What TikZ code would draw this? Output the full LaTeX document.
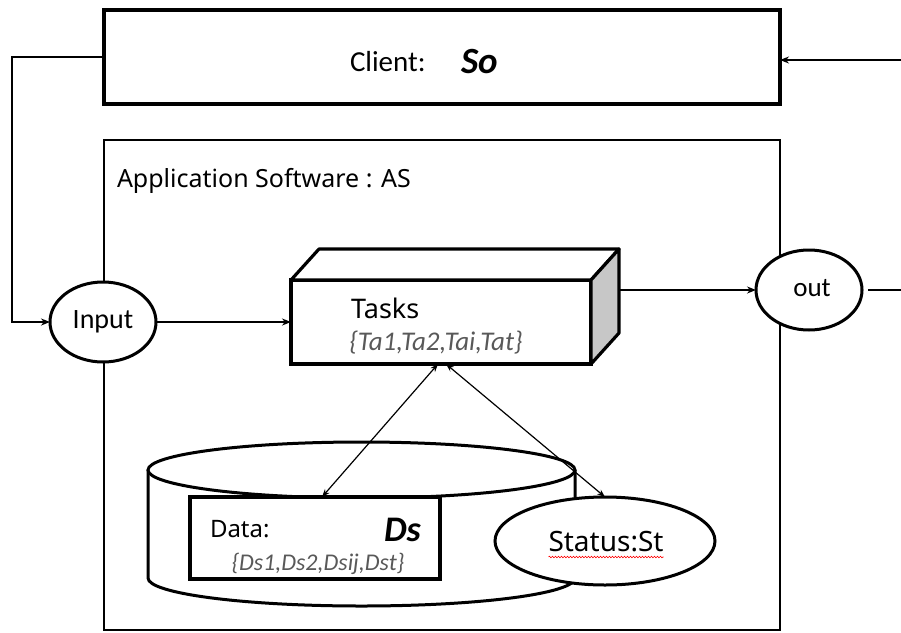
\documentclass[tikz,border=0pt]{standalone}
\usepackage{fontspec}
\setmainfont{Carlito}
\newfontfamily\notosans{Noto Sans}
\usetikzlibrary{shapes.geometric,arrows.meta,decorations.pathmorphing}

\begin{document}
\begin{tikzpicture}[x=1pt,y=-1pt,
  box/.style={draw, line width=3.2pt, fill=white, inner sep=0pt, outer sep=0pt},
  port/.style={draw, ellipse, line width=3pt, fill=white, inner sep=0pt, outer sep=0pt},
  link/.style={line width=1.5pt, -{Stealth[length=9pt,width=7pt]}},
  biway/.style={line width=1.2pt, {Stealth[length=8pt,width=6pt]}-{Stealth[length=8pt,width=6pt]}},
  txt/.style={inner sep=0pt, outer sep=0pt},
  setfont/.style={txt, text=black!65, font=\itshape\fontsize{#1}{#1}\selectfont},
]
\useasboundingbox (0,0) rectangle (901,632);

% application frame and its caption
\node[box, line width=2.4pt, minimum width=676pt, minimum height=490pt] (as) at (442,385) {};
\node[txt, anchor=base west, font=\notosans\fontsize{25}{25}\selectfont] (aslabel) at (117,187) {Application Software : AS};

% client box
\node[box, minimum width=676pt, minimum height=94pt] (client) at (442,57) {};
\node[txt, anchor=base west, font=\fontsize{29}{29}\selectfont] (clientlabel) at (350,71) {Client:};
\node[txt, anchor=base west, font=\fontsize{37}{37}\selectfont\bfseries\itshape] (so) at (461,73) {So};

% data store cylinder
\draw[line width=3pt, fill=white] (148,470) -- (148,578)
  arc[start angle=180, end angle=360, x radius=213.5pt, y radius=28pt] -- (575,470);
\draw[line width=3pt, fill=white] (361.5,470) ellipse [x radius=213.5pt, y radius=28pt];

% data box inside the store
\node[box, minimum width=250pt, minimum height=82pt] (data) at (315,538) {};
\node[txt, anchor=base west, font=\notosans\fontsize{24}{24}\selectfont] (datalabel) at (210,537) {Data:};
\node[txt, anchor=base west, font=\fontsize{36}{36}\selectfont\bfseries\itshape] (ds) at (384,541) {Ds};
\node[setfont=24] (dsset) at (318,564) {\{Ds1,Ds2,Dsij,Dst\}};

% status ellipse
\node[port, minimum width=220pt, minimum height=88pt] (status) at (605,541) {};
\node[txt, anchor=base, font=\notosans\fontsize{28}{28}\selectfont] (statuslabel) at (606,551) {Status:St};
\draw[red, line width=0.6pt, decorate, decoration={snake, amplitude=0.8pt, segment length=3pt}]
  ([yshift=-6pt]statuslabel.base west) -- ([yshift=-6pt]statuslabel.base east);

% tasks block (front, top and side faces)
\node[box, minimum width=300pt, minimum height=84pt] (tasks) at (441,322) {};
\draw[line width=3.2pt, fill=white, line join=round]
  (tasks.north west) -- ++(28,-31) -- ++(300,0) -- (tasks.north east) -- cycle;
\draw[line width=3.2pt, fill=black!22, line join=round]
  (tasks.north east) -- ++(28,-31) -- ++(0,84) -- (tasks.south east) -- cycle;
\node[txt, anchor=base west, font=\notosans\fontsize{27}{27}\selectfont] (taskslabel) at (351,318) {Tasks};
\node[setfont=27] (taskset) at (436,343) {\{Ta1,Ta2,Tai,Tat\}};

% input and output ports
\node[port, minimum width=106pt, minimum height=80pt] (input) at (103,322) {};
\node[txt, font=\fontsize{28}{28}\selectfont] (inputlabel) at (103,322) {Input};
\node[port, minimum width=106pt, minimum height=80pt] (out) at (809,290) {};
\node[txt, font=\fontsize{27}{27}\selectfont] (outlabel) at (812,288) {out};

% connector waypoints
\coordinate (c1) at (12,57);
\coordinate (c2) at (12,322);
\coordinate (feedin) at (901,60);
\coordinate (tside) at (619,290);
\coordinate (rightedge) at (901,290);
\coordinate (tb1) at ([xshift=-3pt]tasks.south);
\coordinate (tb2) at ([xshift=5pt]tasks.south);
\coordinate (db) at ([xshift=7pt]data.north);

% connectors
\draw[link] (client.west) -- (c1) -- (c2) -- (input.west);
\draw[link] (feedin) -- (client.east |- feedin);
\draw[link] (input.east) -- (tasks.west);
\draw[link] (tside) -- (out.west);
\draw[line width=1.5pt] ([xshift=6pt]out.east) -- (rightedge);
\draw[biway] (db) -- (tb1);
\draw[biway] (tb2) -- (status.north);
\end{tikzpicture}
\end{document}
